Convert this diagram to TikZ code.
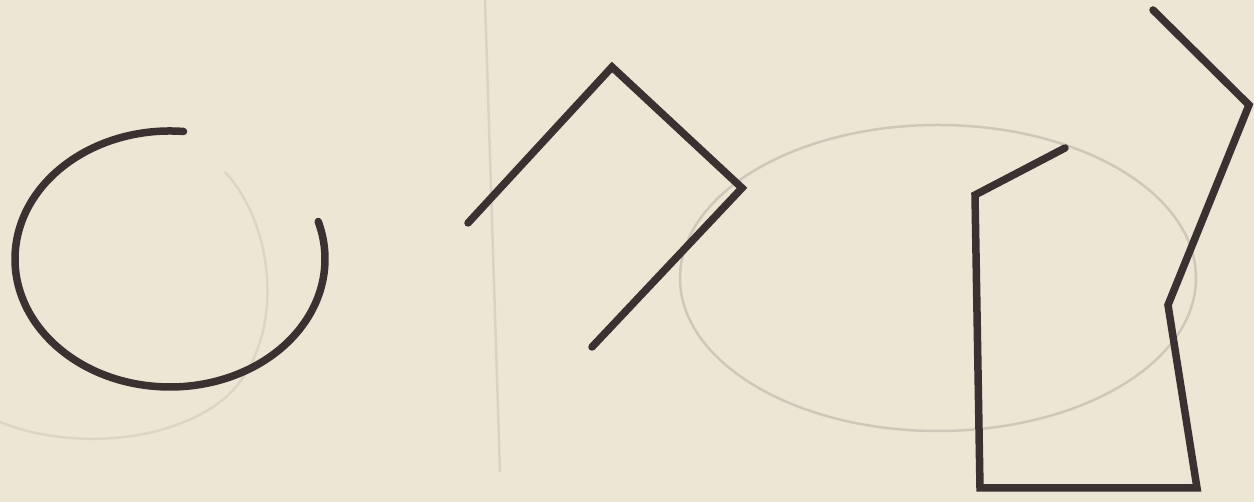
\documentclass[tikz,border=0pt]{standalone}
\definecolor{paper}{HTML}{EEE6D4}
\definecolor{ink}{HTML}{3A3131}
\definecolor{ghost}{HTML}{C9C0B4}
\tikzset{
  inkline/.style={draw=ink, line width=7.5pt, line cap=round, line join=miter},
  ghostline/.style={draw=ghost, line width=2.5pt, opacity=0.8}
}
\begin{document}
\begin{tikzpicture}[x=1pt,y=1pt]
  % paper background (fixes the bounding box)
  \fill[paper] (0,0) rectangle (1254,502);
  \useasboundingbox (0,0) rectangle (1254,502);
  % faint show-through marks of the scan
  \draw[ghostline] (938,224) ellipse [x radius=258, y radius=153];
  \draw[ghostline, opacity=0.5] (485,502) -- (500,30);
  \draw[ghostline, opacity=0.45] (225,330) .. controls (280,270) and (285,150) .. (220,100)
        .. controls (160,55) and (60,55) .. (0,80);
  % open ellipse arc
  \draw[inkline] (170,243) ++(85:155 and 128) coordinate (arcstart)
        arc [start angle=85, end angle=377, x radius=155, y radius=128];
  % bent polyline
  \coordinate (b1) at (468,279);
  \coordinate (b2) at (612,435);
  \coordinate (b3) at (742,314);
  \coordinate (b4) at (592,155);
  \draw[inkline] (b1) -- (b2) -- (b3) -- (b4);
  % right polyline
  \coordinate (c1) at (1065,354);
  \coordinate (c2) at (975,307);
  \coordinate (c3) at (980,14);
  \coordinate (c4) at (1197,14);
  \coordinate (c5) at (1168,197);
  \coordinate (c6) at (1249,397);
  \coordinate (c7) at (1153,492);
  \draw[inkline] (c1) -- (c2) -- (c3) -- (c4) -- (c5) -- (c6) -- (c7);
\end{tikzpicture}
\end{document}
